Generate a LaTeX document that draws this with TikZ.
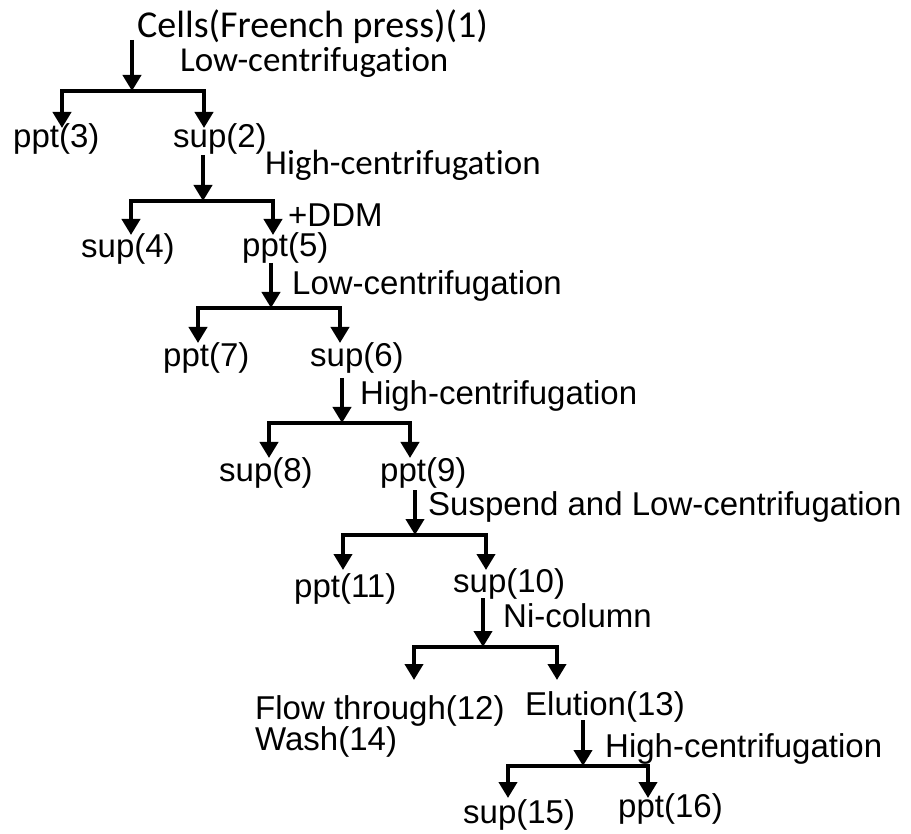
\documentclass[tikz,border=0pt]{standalone}
\usepackage{fontspec}
\setmainfont{Liberation Sans}
\newfontfamily\carlitofont[Ligatures=NoCommon]{Carlito}
\usetikzlibrary{arrows.meta}
\begin{document}
\begin{tikzpicture}[x=1pt,y=-1pt,
 lbl/.style={inner sep=0pt, anchor=base west, font=\fontsize{33}{33}\selectfont},
 clbl/.style={inner sep=0pt, anchor=base west, font=\carlitofont\fontsize{35}{35}\selectfont},
 tlbl/.style={inner sep=0pt, anchor=base west, font=\carlitofont\fontsize{38}{38}\selectfont},
 flow/.style={line width=4pt, -{Triangle[width=18pt,length=16pt]}},
 split/.style={line width=4pt, line join=miter, {Triangle[width=18pt,length=16pt]}-{Triangle[width=18pt,length=16pt]}},
]
\useasboundingbox (0,0) rectangle (911,834);

% stage 1
\node[tlbl] (cells) at (137,38) {Cells(Freench press)(1)};
\node[clbl] (low1) at (180,72) {Low-centrifugation};
\coordinate (a1s) at (132,40); \coordinate (a1e) at (132,91);
\draw[flow] (a1s) -- (a1e);
\coordinate (t3) at (62,128); \coordinate (b1l) at (62,91);
\coordinate (b1r) at (204,91); \coordinate (t2) at (204,128);
\draw[split] (t3) -- (b1l) -- (b1r) -- (t2);
\node[lbl] (ppt3) at (13,148) {ppt(3)};
\node[lbl] (sup2) at (173,148) {sup(2)};

% stage 2
\node[clbl] (high1) at (265,175) {High-centrifugation};
\coordinate (a2s) at (203,155); \coordinate (a2e) at (203,201);
\draw[flow] (a2s) -- (a2e);
\coordinate (t4) at (131,235); \coordinate (b2l) at (131,201);
\coordinate (b2r) at (273,201); \coordinate (t5) at (273,235);
\draw[split] (t4) -- (b2l) -- (b2r) -- (t5);
\node[lbl] (sup4) at (81,258) {sup(4)};
\node[lbl] (ppt5) at (242,257) {ppt(5)};
\node[lbl] (ddm) at (288,227) {+DDM};

% stage 3
\node[lbl] (low2) at (292,295) {Low-centrifugation};
\coordinate (a3s) at (271,263); \coordinate (a3e) at (271,308);
\draw[flow] (a3s) -- (a3e);
\coordinate (t7) at (198,343); \coordinate (b3l) at (198,308);
\coordinate (b3r) at (340,308); \coordinate (t6) at (340,343);
\draw[split] (t7) -- (b3l) -- (b3r) -- (t6);
\node[lbl] (ppt7) at (163,367) {ppt(7)};
\node[lbl] (sup6) at (310,367) {sup(6)};

% stage 4
\node[lbl] (high2) at (360,405) {High-centrifugation};
\coordinate (a4s) at (342,378); \coordinate (a4e) at (342,423);
\draw[flow] (a4s) -- (a4e);
\coordinate (t8) at (269,458); \coordinate (b4l) at (269,423);
\coordinate (b4r) at (410,423); \coordinate (t9) at (410,458);
\draw[split] (t8) -- (b4l) -- (b4r) -- (t9);
\node[lbl] (sup8) at (219,482) {sup(8)};
\node[lbl] (ppt9) at (380,482) {ppt(9)};

% stage 5
\node[lbl] (susp) at (428,515) {Suspend and Low-centrifugation};
\coordinate (a5s) at (415,490); \coordinate (a5e) at (415,535);
\draw[flow] (a5s) -- (a5e);
\coordinate (t11) at (343,570); \coordinate (b5l) at (343,535);
\coordinate (b5r) at (486,535); \coordinate (t10) at (486,570);
\draw[split] (t11) -- (b5l) -- (b5r) -- (t10);
\node[lbl] (ppt11) at (294,597) {ppt(11)};
\node[lbl] (sup10) at (453,592) {sup(10)};

% stage 6
\node[lbl] (ni) at (503,627) {Ni-column};
\coordinate (a6s) at (483,598); \coordinate (a6e) at (483,647);
\draw[flow] (a6s) -- (a6e);
\coordinate (t12) at (414,680); \coordinate (b6l) at (414,647);
\coordinate (b6r) at (557,647); \coordinate (t13) at (557,680);
\draw[split] (t12) -- (b6l) -- (b6r) -- (t13);
\node[lbl] (flow12) at (255,719) {Flow through(12)};
\node[lbl] (wash14) at (255,750) {Wash(14)};
\node[lbl] (elu13) at (525,715) {Elution(13)};

% stage 7
\node[lbl] (high3) at (605,757) {High-centrifugation};
\coordinate (a7s) at (583,720); \coordinate (a7e) at (583,766);
\draw[flow] (a7s) -- (a7e);
\coordinate (t15) at (508,798); \coordinate (b7l) at (508,766);
\coordinate (b7r) at (648,766); \coordinate (t16) at (648,798);
\draw[split] (t15) -- (b7l) -- (b7r) -- (t16);
\node[lbl] (sup15) at (463,823) {sup(15)};
\node[lbl] (ppt16) at (618,817) {ppt(16)};
\end{tikzpicture}
\end{document}
